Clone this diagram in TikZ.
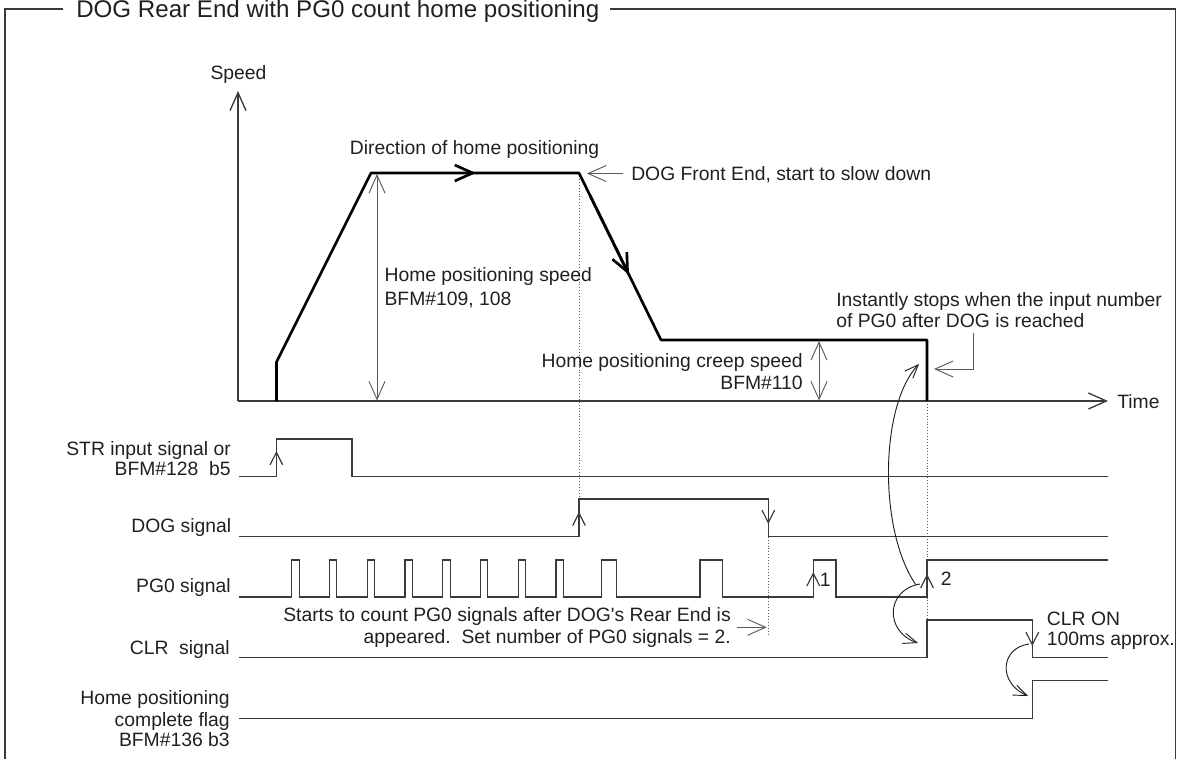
\documentclass[tikz,border=0pt]{standalone}
\usepackage{fontspec}
\setmainfont{Liberation Sans}
\usetikzlibrary{arrows.meta}
\definecolor{ink}{HTML}{231F20}
\definecolor{wave}{HTML}{3A3A3A}
\definecolor{thin}{HTML}{5A5A5A}
\tikzset{
  lbl/.style={font=\fontsize{14.5}{17}\selectfont, text=ink, inner sep=0pt},
  ttl/.style={font=\fontsize{18.1}{21}\selectfont, text=ink, inner sep=0pt},
  frm/.style={draw=wave, line width=1pt},
  wavel/.style={draw=wave, line width=0.9pt, line join=miter},
  axisl/.style={draw=wave, line width=1pt},
  traj/.style={draw=black, line width=2pt, line join=round},
  dimline/.style={draw=thin, line width=0.7pt},
  curvl/.style={draw=ink, line width=0.7pt},
  dotl/.style={draw=thin, line width=0.6pt, dash pattern=on 0.7pt off 1.5pt},
  bigtip/.tip={Straight Barb[length=13.5pt, width=12pt]},
  smalltip/.tip={Straight Barb[length=9.4pt, width=9.5pt]},
  midtip/.tip={Straight Barb[length=10pt, width=8pt]},
}
\begin{document}
\begin{tikzpicture}[x=0.75pt, y=-0.75pt]
\useasboundingbox (0,0) rectangle (1178,758);
\clip (0,0) rectangle (1178,758);
% frame
\draw[frm] (63,9) -- (5,9) -- (5,770);
\draw[frm] (610,9) -- (1175.5,9) -- (1175.5,770);
\node[ttl, anchor=base west] (title) at (76,17.5) {DOG Rear End with PG0 count home positioning};

% axes
\draw[axisl, -{bigtip}] (238,401) -- (238,91);
\draw[axisl, -{bigtip}] (238,401) -- (1108,401);
\node[lbl, anchor=base] (speed) at (238.5,79) {Speed};
\node[lbl, anchor=base west] (time) at (1117,408) {Time};

% dotted guides
\draw[dotl] (579,173) -- (579,499);
\draw[dotl] (768.3,536.7) -- (768.3,636);
\draw[dotl] (927,401) -- (927,620);

% speed trajectory
\draw[traj] (276.5,401) -- (276.5,362) -- (371,173) -- (579,173) -- (661,340) -- (927,340) -- (927,401);
\draw[traj, -{Straight Barb[length=13.5pt, width=12pt]}] (420,173) -- (476,173);
\draw[traj, -{Straight Barb[length=13.5pt, width=12pt]}] (590,195.4) -- (629,274.8);

% dimension arrows
\draw[dimline, {bigtip}-{bigtip}] (377,174) -- (377,400.5);
\draw[dimline, {bigtip}-{bigtip}] (819,341) -- (819,400.5);
\node[lbl, anchor=base west] (hps1) at (384.3,281.7) {Home positioning speed};
\node[lbl, anchor=base west] (hps2) at (384.3,305) {BFM\#109, 108};
\node[lbl, anchor=base east] (crp1) at (803,367) {Home positioning creep speed};
\node[lbl, anchor=base east] (crp2) at (803,389) {BFM\#110};

\node[lbl, anchor=base] (dir) at (474.5,154.5) {Direction of home positioning};
\draw[dimline, -{bigtip}] (623,173.5) -- (587,173.5);
\node[lbl, anchor=base west] (dogfe) at (631,180) {DOG Front End, start to slow down};

\node[lbl, anchor=base west] (inst1) at (836,306) {Instantly stops when the input number};
\node[lbl, anchor=base west] (inst2) at (836,327.5) {of PG0 after DOG is reached};
\draw[dimline, -{bigtip}] (973,333) |- (934,369);

% signal labels
\node[lbl, anchor=base east] (str1) at (231,455) {STR input signal or};
\node[lbl, anchor=base east] (str2) at (231,475.7) {BFM\#128~~b5};
\node[lbl, anchor=base east] (dogl) at (231.5,532.7) {DOG signal};
\node[lbl, anchor=base east] (pgl) at (231,592.3) {PG0 signal};
\node[lbl, anchor=base east] (clrl) at (230,654) {CLR~~signal};
\node[lbl, anchor=base east] (hf1) at (230,704) {Home positioning};
\node[lbl, anchor=base east] (hf2) at (230,726.7) {complete flag};
\node[lbl, anchor=base east] (hf3) at (230,746.7) {BFM\#136 b3};

% waveforms
\draw[wavel] (239,476.3) -- (276.4,476.3) -- (276.4,439) -- (352,439) -- (352,476.3) -- (1108,476.3);
\draw[wavel] (239,536.7) -- (579,536.7) -- (579,499) -- (768.3,499) -- (768.3,536.7) -- (1108,536.7);
\draw[wavel] (239,597)
  foreach \x in {291.7,329.4,367.2,405,442.7,480.4,518.2,556} { -- (\x,597) -- (\x,560) -- (\x+7.4,560) -- (\x+7.4,597) }
  -- (601.7,597) -- (601.7,560) -- (616.7,560) -- (616.7,597)
  -- (700,597) -- (700,560) -- (722.7,560) -- (722.7,597)
  -- (813.3,597) -- (813.3,560) -- (836,560) -- (836,597)
  -- (927,597) -- (927,560) -- (1108,560);
\draw[wavel] (239,657.3) -- (927,657.3) -- (927,620) -- (1032.3,620) -- (1032.3,657.3) -- (1108,657.3);
\draw[wavel] (239,718.3) -- (1032.3,718.3) -- (1032.3,680.7) -- (1108,680.7);

% edge arrows
\draw[wavel, -{smalltip}] (276.4,476) -- (276.4,451);
\draw[wavel, -{smalltip}] (579,536) -- (579,511.7);
\draw[wavel, -{smalltip}] (768.3,499.5) -- (768.3,524);
\draw[wavel, -{smalltip}] (813.3,596.5) -- (813.3,572);
\draw[wavel, -{smalltip}] (927,596.5) -- (927,574);
\draw[wavel, -{smalltip}] (1032.3,620.5) -- (1032.3,646);
\node[lbl, anchor=base west] (n1) at (819.5,586) {1};
\node[lbl, anchor=base west] (n2) at (940.5,585.5) {2};

% count note
\node[lbl, anchor=base east] (cnt1) at (731,621.7) {Starts to count PG0 signals after DOG\textquotesingle s Rear End is};
\node[lbl, anchor=base east] (cnt2) at (731,643.3) {appeared.~~Set number of PG0 signals = 2.};
\draw[dimline, -{bigtip}] (736.7,627.3) -- (766.7,627.3);

% CLR note
\node[lbl, anchor=base west] (clron1) at (1046.7,625) {CLR ON};
\node[lbl, anchor=base west] (clron2) at (1046.7,645) {100ms approx.};

% curved arrows
\draw[curvl, -{midtip}] (916,585) .. controls (878,530) and (880,405) .. (919,364);
\draw[curvl, -{midtip}] (920,584) .. controls (885,590) and (885,632) .. (918,643);
\draw[curvl, -{midtip}] (1029,644) .. controls (1000,648) and (998,683) .. (1028,696);
\end{tikzpicture}
\end{document}
